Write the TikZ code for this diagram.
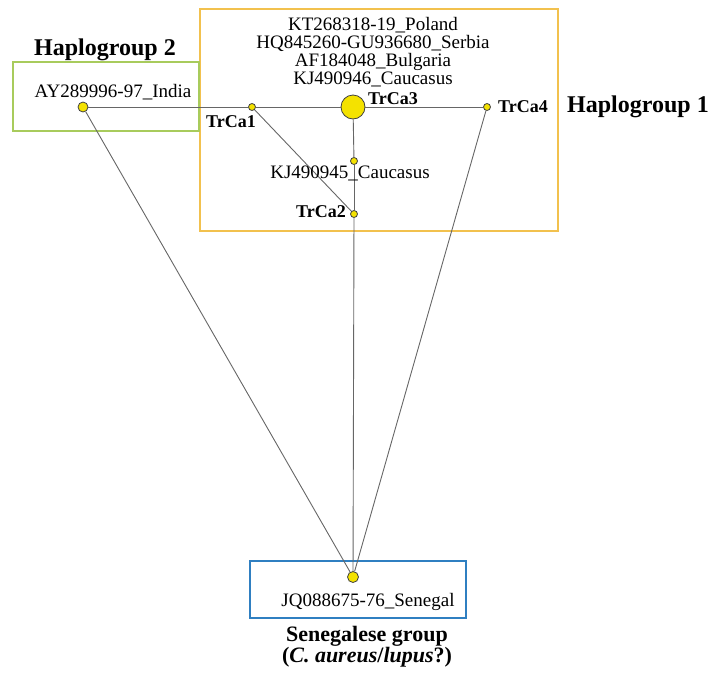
\documentclass[tikz,border=0pt]{standalone}
\usepackage{fontspec}
\setmainfont{Liberation Serif}
\definecolor{hapone}{HTML}{F2C14E}
\definecolor{haptwo}{HTML}{A8CB5C}
\definecolor{senbox}{HTML}{2F7FC1}
\definecolor{hapfill}{HTML}{F4E200}
\tikzset{
  hap/.style={circle, draw=black!75, fill=hapfill, line width=0.8pt, inner sep=0pt, minimum size=#1},
  link/.style={draw=black!60, line width=0.9pt},
  seqlabel/.style={font=\fontsize{19}{18}\selectfont, inner sep=1pt, align=center},
  hlabel/.style={font=\bfseries\fontsize{18}{18}\selectfont, inner sep=1pt},
  grouplabel/.style={font=\bfseries\fontsize{22}{21}\selectfont, inner sep=1pt, align=center}
}
\begin{document}
\begin{tikzpicture}[x=1pt,y=-1pt]
    \useasboundingbox (0,0) rectangle (712,675);

    %group frames
    \draw[hapone, line width=1.6pt] (200,9) rectangle (558,231);
    \draw[haptwo, line width=1.6pt] (13,62) rectangle (199,131);
    \draw[senbox, line width=1.6pt] (250,561) rectangle (466,618);

    %haplotypes
    \node[hap=10pt] (india) at (83,107) {};
    \node[hap=7pt] (trca1) at (252,107) {};
    \node[hap=24pt] (trca3) at (353,107) {};
    \node[hap=7pt] (trca4) at (487,107) {};
    \node[hap=7pt] (kj945) at (354,161) {};
    \node[hap=7pt] (trca2) at (354,214) {};
    \node[hap=11pt] (seneg) at (353,577) {};

    %links
    \draw[link] (india) -- (trca1);
    \draw[link] (trca1) -- (trca3);
    \draw[link] (trca3) -- (trca4);
    \draw[link] (trca3) -- (kj945);
    \draw[link] (kj945) -- (trca2);
    \draw[link] (trca1) -- (trca2);
    \draw[link] (trca2) -- (seneg);
    \draw[link] (india) -- (seneg);
    \draw[link] (trca4) -- (seneg);

    %sequence names
    \node[seqlabel] (toplist) at (373,52) {KT268318-19\_Poland\\HQ845260-GU936680\_Serbia\\AF184048\_Bulgaria\\KJ490946\_Caucasus};
    \node[seqlabel] (indialbl) at (113,92) {AY289996-97\_India};
    \node[seqlabel] (kj945lbl) at (350,173) {KJ490945\_Caucasus};
    \node[seqlabel] (senlbl) at (368,602) {JQ088675-76\_Senegal};

    %haplotype names
    \node[hlabel] (lbl1) at (231,122) {TrCa1};
    \node[hlabel] (lbl2) at (321,212) {TrCa2};
    \node[hlabel] (lbl3) at (393,99) {TrCa3};
    \node[hlabel] (lbl4) at (523,107) {TrCa4};

    %group names
    \node[grouplabel, font=\bfseries\fontsize{24}{22}\selectfont] (grp2) at (105,50) {Haplogroup 2};
    \node[grouplabel, font=\bfseries\fontsize{24}{22}\selectfont] (grp1) at (638,107) {Haplogroup 1};
    \node[grouplabel] (grpsen) at (367,647) {Senegalese group\\(\textit{C. aureus}/\textit{lupus}?)};
\end{tikzpicture}
\end{document}
